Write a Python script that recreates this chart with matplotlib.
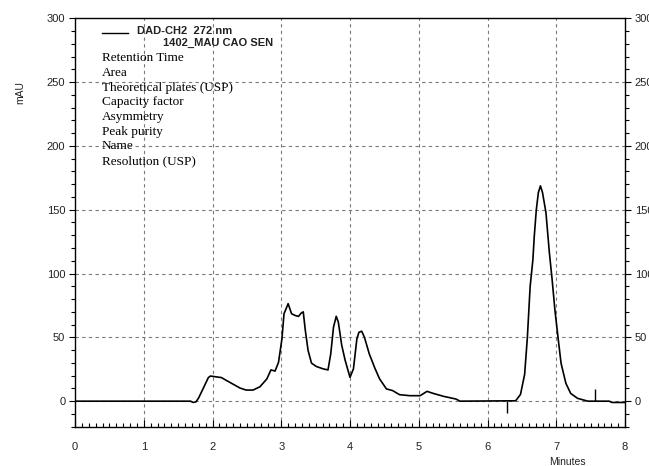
import matplotlib
matplotlib.use("Agg")
import matplotlib.pyplot as plt
from matplotlib.ticker import MultipleLocator

# ---- data ----
time_min = [0.0, 1.68, 1.72, 1.76, 1.80, 1.87, 1.94, 1.97, 2.06, 2.13, 2.21, 2.28,
            2.40, 2.49, 2.59, 2.69, 2.79, 2.85, 2.91, 2.96, 3.01, 3.04, 3.08, 3.10,
            3.15, 3.20, 3.25, 3.29, 3.32, 3.35, 3.39, 3.44, 3.51, 3.61, 3.68, 3.72,
            3.76, 3.80, 3.83, 3.88, 3.93, 4.00, 4.05, 4.10, 4.13, 4.17, 4.21, 4.28,
            4.36, 4.43, 4.53, 4.62, 4.72, 4.87, 5.02, 5.12, 5.21, 5.36, 5.54, 5.60,
            6.41, 6.48, 6.54, 6.58, 6.62, 6.66, 6.68, 6.71, 6.74, 6.77, 6.80, 6.85,
            6.90, 6.94, 6.98, 7.03, 7.07, 7.14, 7.21, 7.31, 7.46, 7.77, 7.81, 8.0]
signal_mau = [0.0, 0.0, -1.0, -0.5, 2.7, 10.6, 18.5, 19.7, 19.0, 18.5, 16.0, 13.9,
              10.3, 8.7, 8.7, 11.3, 17.4, 24.5, 23.6, 30.4, 48.8, 68.5, 73.7, 76.4,
              68.5, 67.2, 66.4, 69.0, 70.0, 55.5, 39.8, 29.8, 27.2, 25.3, 24.5, 37.1,
              58.0, 66.5, 62.0, 43.7, 31.9, 18.7, 25.3, 48.8, 54.0, 54.8, 50.1, 37.1,
              26.1, 17.5, 9.6, 8.3, 5.1, 4.3, 4.3, 7.7, 6.1, 3.8, 1.7, 0.0,
              0.3, 5.3, 21.0, 50.0, 89.7, 110.7, 129.0, 150.0, 163.5, 168.7, 163.5, 147.8,
              116.3, 95.3, 71.7, 48.0, 29.7, 14.0, 6.1, 2.2, 0.0, 0.0, -1.0, -1.0]

# integration event markers (time, height)
marker_times = [6.28, 7.56]
marker_heights = [-9.0, 9.5]

legend_title = "DAD-CH2  272 nm"
legend_sample = "1402_MAU CAO SEN"
result_fields = ["Retention Time", "Area", "Theoretical plates (USP)", "Capacity factor",
                 "Asymmetry", "Peak purity", "Name", "Resolution (USP)"]

x_ticks = [0, 1, 2, 3, 4, 5, 6, 7, 8]
y_ticks = [0, 50, 100, 150, 200, 250, 300]

W, H = 649, 466
fig = plt.figure(figsize=(W / 100, H / 100), dpi=100)
fig.patch.set_facecolor("white")
ax = fig.add_axes([75 / W, 1 - 426.7 / H, 550 / W, 408.4 / H])

ax.set_xlim(0, 8)
ax.set_ylim(-20, 300)

# grid
grid_kw = dict(color="#7a7a7a", lw=0.8, ls=(0, (3, 3)), zorder=1)
for xv in x_ticks[1:-1]:
    ax.axvline(xv, **grid_kw)
for yv in y_ticks[:-1]:
    ax.axhline(yv, **grid_kw)

ax.plot(time_min, signal_mau, color="black", lw=1.2, zorder=3)
ax.vlines(marker_times, 0, marker_heights, color="black", lw=1.0, zorder=3)

sans = ["Liberation Sans", "DejaVu Sans"]
ax.set_xticks(x_ticks)
ax.set_xticklabels([str(v) for v in x_ticks], family=sans, fontsize=8, color="#222222")
ax.xaxis.set_minor_locator(MultipleLocator(0.1))
ax.tick_params(axis="x", which="major", direction="in", length=5, width=0.8, pad=11)
ax.tick_params(axis="x", which="minor", direction="in", length=3, width=0.8)

ax.set_yticks(y_ticks)
ax.set_yticklabels([str(v) for v in y_ticks], family=sans, fontsize=8, color="#222222")
ax.yaxis.set_minor_locator(MultipleLocator(10))
ax.tick_params(axis="y", which="major", direction="out", length=4, width=0.8,
               left=True, right=True, labelleft=True, labelright=True, pad=3)
ax.tick_params(axis="y", which="minor", direction="out", length=3, width=0.8,
               left=True, right=True)

for sp in ax.spines.values():
    sp.set_linewidth(1.0)
    sp.set_color("black")

# axis titles
fig.text(20 / W, 1 - 93 / H, "mAU", rotation=90, ha="center", va="center",
         family=sans, fontsize=7.5, color="#222222")
fig.text(567 / W, 1 - 462 / H, "Minutes", ha="center", va="center",
         family=sans, fontsize=7.5, color="#222222")

# legend block
fig.lines.append(plt.Line2D([102 / W, 128 / W], [1 - 32.5 / H, 1 - 32.5 / H],
                            transform=fig.transFigure, color="black", lw=1.0))
fig.text(137 / W, 1 - 31 / H, legend_title, ha="left", va="center",
         family=sans, fontsize=8, fontweight="bold", color="#222222")
fig.text(163 / W, 1 - 42.5 / H, legend_sample, ha="left", va="center",
         family=sans, fontsize=8, fontweight="bold", color="#222222")
y0, dy = 58.3, 14.65
for i, name in enumerate(result_fields):
    fig.text(102 / W, 1 - (y0 + i * dy) / H, name, ha="left", va="center",
             family=["Liberation Serif", "DejaVu Serif"], fontsize=9.5, color="black")

fig.savefig("out.png", dpi=100, facecolor="white")
